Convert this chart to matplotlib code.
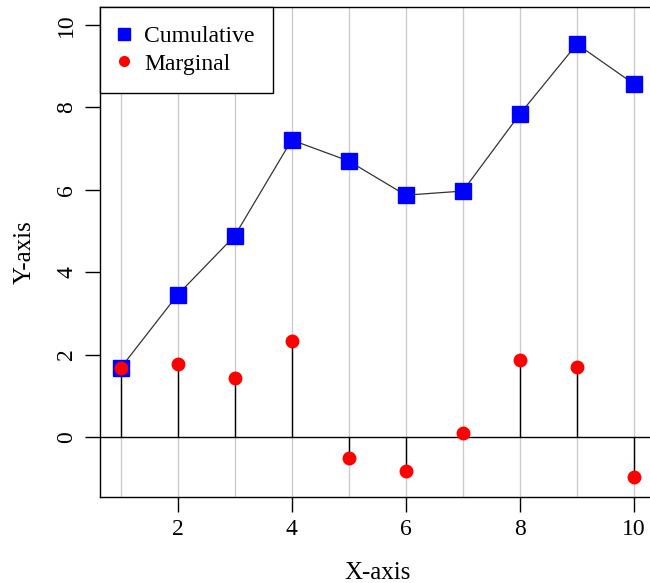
import matplotlib
matplotlib.use("Agg")
import matplotlib.pyplot as plt
from matplotlib.lines import Line2D

x = [1, 2, 3, 4, 5, 6, 7, 8, 9, 10]
cumulative = [1.67, 3.45, 4.88, 7.21, 6.70, 5.87, 5.97, 7.84, 9.54, 8.57]
marginal = [1.67, 1.78, 1.43, 2.33, -0.51, -0.83, 0.10, 1.87, 1.70, -0.97]
xticks = [2, 4, 6, 8, 10]
yticks = [0, 2, 4, 6, 8, 10]

plt.rcParams['font.family'] = ['Liberation Serif', 'DejaVu Serif']

W, H = 650, 583
fig = plt.figure(figsize=(W / 100, H / 100), dpi=100)
left, right, top, bottom = 100, 654.5, 7, 497
ax = fig.add_axes([left / W, 1 - bottom / H, (right - left) / W, (bottom - top) / H])
ax.set_xlim(0.64, 10.36)
ax.set_ylim(-1.46, 10.44)

for xi in x:
    ax.axvline(xi, color='#cccccc', lw=1, zorder=0)
ax.axhline(0, color='black', lw=1, zorder=1)

ax.plot(x, cumulative, color='#333333', lw=0.9, zorder=2)
ax.plot(x, cumulative, 's', color='#0000ff', markersize=11.5, zorder=3, linestyle='none')
ax.vlines(x, 0, marginal, color='black', lw=1, zorder=2)
ax.plot(x, marginal, 'o', color='#ff0000', markersize=9, zorder=4, linestyle='none')

ax.set_xticks(xticks)
ax.set_yticks(yticks)
ax.tick_params(axis='both', direction='out', length=10.5, width=1, labelsize=17, color='black')
ax.tick_params(axis='x', pad=5)
ax.tick_params(axis='y', pad=6)
for lab in ax.get_yticklabels():
    lab.set_rotation(90)
    lab.set_va('center')
for s in ax.spines.values():
    s.set_linewidth(1)

ax.set_xlabel('X-axis', fontsize=18, labelpad=16)
ax.set_ylabel('Y-axis', fontsize=18, labelpad=15)

handles = [
    Line2D([], [], marker='s', color='#0000ff', linestyle='none', markersize=8.5),
    Line2D([], [], marker='o', color='#ff0000', linestyle='none', markersize=7),
]
leg = ax.legend(handles, ['Cumulative', 'Marginal'], loc='upper left', bbox_to_anchor=(0, 1),
                borderaxespad=0, fontsize=17, fancybox=False, framealpha=1,
                edgecolor='black', handlelength=0.5, handletextpad=0.6,
                borderpad=0.78, labelspacing=0.26)
leg.get_frame().set_linewidth(1)

fig.savefig('out.png', dpi=100)
